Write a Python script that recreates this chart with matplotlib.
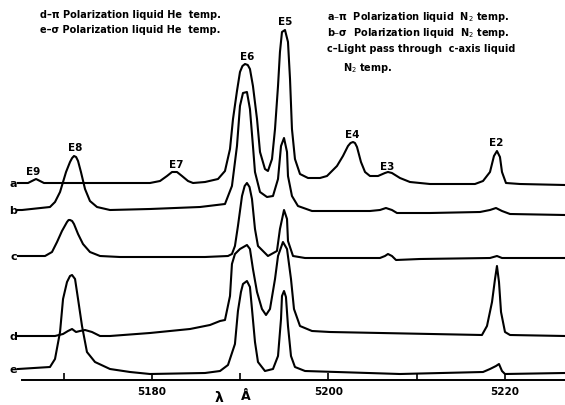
import matplotlib
matplotlib.use("Agg")
import matplotlib.pyplot as plt

# wavelength (A) and trace height (arbitrary units)

wl_a = [5164.82, 5165.95, 5166.40, 5166.86, 5167.31, 5167.76, 5179.77, 5180.91, 5181.70, 5182.27,
        5182.83, 5183.40, 5184.08, 5184.65, 5186.01, 5187.48, 5188.27, 5188.84, 5189.18, 5189.63,
        5189.97, 5190.25, 5190.54, 5190.85, 5191.10, 5191.44, 5191.90, 5192.24, 5192.80, 5193.14,
        5193.60, 5193.94, 5194.28, 5194.50, 5194.73, 5195.07, 5195.41, 5195.64, 5195.86, 5196.20,
        5196.77, 5197.68, 5199.04, 5199.83, 5200.96, 5201.64, 5202.21, 5202.50, 5202.78, 5203.00,
        5203.23, 5203.68, 5204.14, 5204.70, 5205.61, 5206.40, 5206.74, 5207.19, 5208.10, 5209.23,
        5211.50, 5216.60, 5217.51, 5218.30, 5218.75, 5219.09, 5219.43, 5219.66, 5220.11, 5221.70,
        5226.80]
int_a = [197, 197, 199, 201, 199, 197, 197, 199, 204, 208,
         208, 204, 199, 197, 198, 201, 209, 231, 261, 289,
         308, 314, 316, 315, 311, 294, 261, 228, 211, 209,
         221, 251, 294, 328, 348, 350, 338, 301, 251, 221,
         206, 202, 202, 204, 214, 224, 234, 237, 238, 237,
         233, 218, 208, 204, 204, 207, 208, 207, 202, 198,
         196, 196, 199, 208, 224, 229, 223, 208, 197, 196,
         195]

wl_b = [5164.82, 5165.27, 5168.44, 5169.01, 5169.58, 5169.92, 5170.26, 5170.71, 5170.95, 5171.16,
        5171.40, 5171.62, 5171.95, 5172.41, 5172.97, 5173.77, 5175.24, 5179.77, 5185.44, 5188.27,
        5189.06, 5189.63, 5189.97, 5190.31, 5190.76, 5191.10, 5191.44, 5191.67, 5192.24, 5193.03,
        5193.71, 5194.28, 5194.62, 5194.96, 5195.30, 5195.41, 5195.86, 5196.54, 5198.13, 5204.70,
        5205.83, 5206.51, 5207.19, 5207.76, 5211.50, 5217.17, 5218.30, 5218.98, 5219.66, 5220.57,
        5226.80]
int_b = [170, 170, 173, 178, 188, 198, 208, 218, 222, 224,
         223, 219, 208, 191, 179, 173, 170, 171, 173, 176,
         194, 234, 274, 287, 288, 271, 234, 208, 188, 183,
         184, 201, 234, 242, 228, 204, 184, 174, 169, 169,
         170, 172, 170, 167, 167, 168, 170, 172, 169, 166,
         165]

wl_c = [5164.82, 5167.88, 5168.67, 5169.24, 5169.80, 5170.37, 5170.55, 5170.71, 5170.95, 5171.16,
        5171.62, 5172.18, 5172.97, 5174.11, 5176.37, 5186.01, 5188.61, 5189.06, 5189.40, 5189.74,
        5190.20, 5190.50, 5190.76, 5191.05, 5191.33, 5191.67, 5192.01, 5193.14, 5194.16, 5194.50,
        5194.96, 5195.30, 5195.41, 5195.98, 5197.34, 5205.83, 5206.40, 5206.74, 5207.19, 5207.65,
        5210.37, 5218.30, 5219.09, 5219.66, 5226.80]
int_c = [124, 124, 128, 138, 149, 158, 160, 160, 159, 156,
         146, 136, 128, 124, 123, 123, 124, 126, 134, 154,
         184, 194, 197, 193, 181, 151, 134, 124, 129, 151,
         170, 161, 139, 124, 122, 122, 124, 126, 124, 120,
         121, 122, 124, 122, 122]

wl_d = [5164.82, 5169.01, 5169.92, 5170.48, 5170.94, 5171.39, 5171.84, 5172.41, 5173.20, 5174.11,
        5175.24, 5179.77, 5184.31, 5186.57, 5187.71, 5188.27, 5188.84, 5189.06, 5189.40, 5189.97,
        5190.76, 5191.10, 5191.44, 5191.90, 5192.46, 5192.92, 5193.37, 5193.94, 5194.28, 5194.84,
        5195.30, 5195.75, 5196.09, 5196.77, 5198.13, 5200.17, 5217.39, 5217.96, 5218.53, 5218.87,
        5219.09, 5219.32, 5219.55, 5220.00, 5220.57, 5226.80]
int_d = [44, 44, 46, 49, 51, 48, 49, 50, 48, 44,
         44, 47, 51, 55, 59, 60, 84, 116, 126, 131,
         135, 131, 111, 88, 71, 65, 71, 101, 124, 138,
         131, 101, 71, 54, 49, 48, 45, 54, 78, 101,
         114, 98, 68, 48, 45, 44]

wl_e = [5164.82, 5168.44, 5169.01, 5169.58, 5169.92, 5170.37, 5170.71, 5170.94, 5171.28, 5171.62,
        5172.07, 5172.63, 5173.54, 5175.24, 5177.51, 5179.77, 5186.01, 5187.71, 5188.61, 5189.40,
        5189.74, 5190.08, 5190.31, 5190.76, 5191.10, 5191.33, 5191.67, 5192.01, 5192.80, 5193.71,
        5194.28, 5194.62, 5194.73, 5194.96, 5195.18, 5195.41, 5195.75, 5196.20, 5197.34, 5208.10,
        5217.51, 5218.30, 5218.98, 5219.32, 5219.66, 5220.00, 5226.80]
int_e = [11, 13, 21, 48, 81, 98, 104, 105, 101, 81,
         54, 28, 18, 11, 8, 6, 7, 9, 15, 36,
         69, 88, 96, 99, 93, 71, 38, 18, 9, 11,
         24, 61, 84, 89, 83, 54, 24, 13, 9, 6,
         8, 11, 14, 16, 9, 6, 7]

curve_names = ["a", "b", "c", "d", "e"]

peak_names = ["E9", "E8", "E7", "E6", "E5", "E4", "E3", "E2"]
peak_wl = [5166.5, 5171.3, 5182.8, 5190.8, 5195.1, 5202.7, 5206.7, 5219.0]
peak_lab_h = [209, 233, 216, 324, 359, 246, 214, 238]

major_ticks = [5180, 5200, 5220]
minor_ticks = [5170, 5190, 5210]

left_notes = ["d\u2013\u03c0 Polarization liquid He  temp.",
              "e\u2013\u03c3 Polarization liquid He  temp."]
right_notes = ["a\u2013\u03c0  Polarization liquid  N$_2$ temp.",
               "b\u2013\u03c3  Polarization liquid  N$_2$ temp.",
               "c\u2013Light pass through  c-axis liquid",
               "N$_2$ temp."]

fig = plt.figure(figsize=(5.65, 4.06), dpi=100)
ax = fig.add_axes([22/565, 25/406, 543/565, 381/406])

curves = [(wl_a, int_a), (wl_b, int_b), (wl_c, int_c), (wl_d, int_d), (wl_e, int_e)]
for (xs, ys), name in zip(curves, curve_names):
    ax.plot(xs, ys, color="black", lw=1.5, clip_on=False, solid_joinstyle="round")
    ax.text(5164.3, ys[0], name, ha="center", va="center", fontsize=8, fontweight="bold")

for n, w, h in zip(peak_names, peak_wl, peak_lab_h):
    ax.text(w, h, n, ha="center", va="center", fontsize=7.5, fontweight="bold")

ax.set_xlim(5165.27, 5226.8)
ax.set_ylim(0, 381)
for s in ["top", "right", "left"]:
    ax.spines[s].set_visible(False)
ax.spines["bottom"].set_linewidth(1.4)
ax.set_yticks([])
ax.set_xticks(major_ticks)
ax.set_xticklabels([str(t) for t in major_ticks], fontsize=7.5, fontweight="bold")
ax.set_xticks(minor_ticks, minor=True)
ax.tick_params(axis="x", which="both", direction="in", length=5, width=1.2, pad=4)

for i, t in enumerate(left_notes):
    fig.text(40/565, 1 - (15 + 15*i)/406, t, ha="left", va="center", fontsize=7, fontweight="bold")
for i, t in enumerate(right_notes):
    xs = 327 if i < 3 else 343
    ys = [17, 33, 49, 68][i]
    fig.text(xs/565, 1 - ys/406, t, ha="left", va="center", fontsize=7, fontweight="bold")

fig.text(219/565, 1 - 398/406, "\u03bb", ha="center", va="center", fontsize=10, fontweight="bold")
fig.text(246/565, 1 - 397/406, "\u00c5", ha="center", va="center", fontsize=9, fontweight="bold")

fig.savefig("out.png", dpi=100)
